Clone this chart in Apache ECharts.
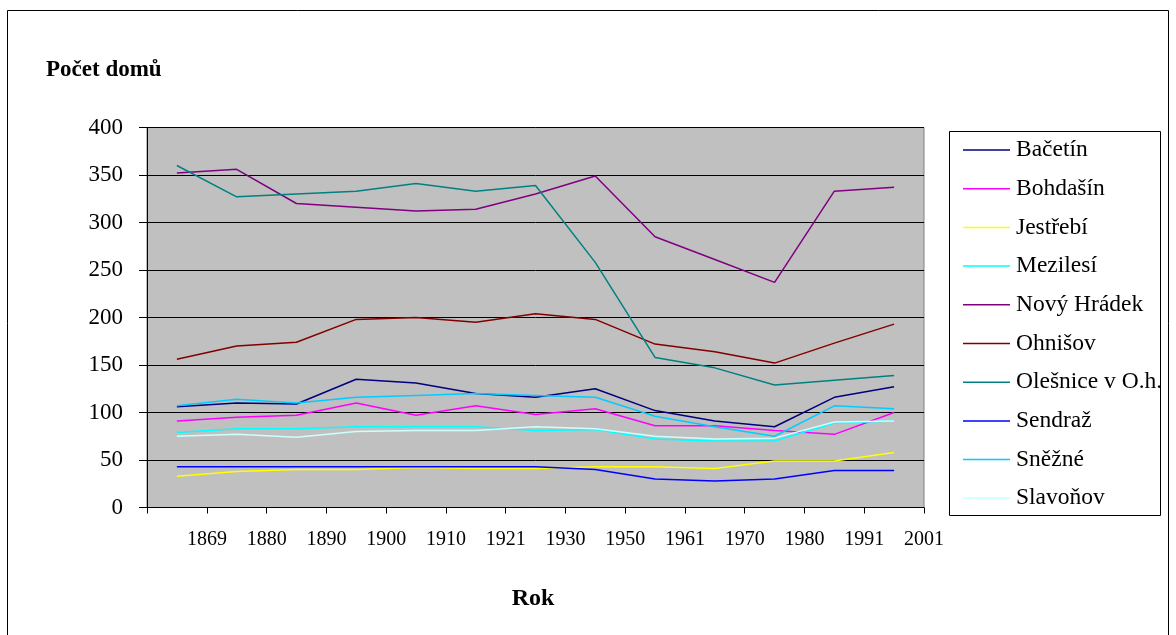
<!DOCTYPE html>
<html>
<head>
<meta charset="utf-8">
<script src="https://cdn.jsdelivr.net/npm/echarts@6/dist/echarts.min.js"></script>
<style>
  html, body { margin: 0; padding: 0; background: #fff; }
  #chart { width: 1176px; height: 635px; }
</style>
</head>
<body>
<div id="chart"></div>
<script>
// Census years (x categories)
const years = ['1869', '1880', '1890', '1900', '1910', '1921', '1930', '1950', '1961', '1970', '1980', '1991', '2001'];

// Number of houses per village
const bacetin    = [106, 110, 109, 135, 131, 120, 116, 125, 102, 91, 85, 116, 127];
const bohdasin   = [91, 95, 97, 110, 97, 107, 98, 104, 86, 86, 81, 77, 100];
const jestrebi   = [33, 38, 40, 40, 42, 41, 41, 43, 43, 41, 49, 49, 58];
const mezilesi   = [79, 83, 83, 85, 85, 85, 81, 82, 72, 70, 70, 89, 91];
const novyHradek = [352, 356, 320, 316, 312, 314, 330, 349, 285, 261, 237, 333, 337];
const ohnisov    = [156, 170, 174, 198, 200, 195, 204, 198, 172, 164, 152, 173, 193];
const olesnice   = [360, 327, 330, 333, 341, 333, 339, 258, 158, 147, 129, 134, 139];
const sendraz    = [43, 43, 43, 43, 43, 43, 43, 40, 30, 28, 30, 39, 39];
const snezne     = [107, 114, 110, 116, 118, 120, 118, 116, 96, 85, 75, 107, 104];
const slavonov   = [75, 77, 74, 80, 81, 81, 85, 83, 75, 72, 73, 90, 91];

const yTicks = { min: 0, max: 400, interval: 50 };

const seriesDefs = [
  { name: 'Bačetín', data: bacetin, color: '#000080' },
  { name: 'Bohdašín', data: bohdasin, color: '#FF00FF' },
  { name: 'Jestřebí', data: jestrebi, color: '#FFFF00' },
  { name: 'Mezilesí', data: mezilesi, color: '#00FFFF' },
  { name: 'Nový Hrádek', data: novyHradek, color: '#800080' },
  { name: 'Ohnišov', data: ohnisov, color: '#800000' },
  { name: 'Olešnice v O.h.', data: olesnice, color: '#008080' },
  { name: 'Sendraž', data: sendraz, color: '#0000FF' },
  { name: 'Sněžné', data: snezne, color: '#00CCFF' },
  { name: 'Slavoňov', data: slavonov, color: '#CCFFFF' }
];

const FONT = '"Liberation Serif", "DejaVu Serif", serif';

const chart = echarts.init(document.getElementById('chart'), null, { renderer: 'canvas' });

chart.setOption({
  animation: false,
  backgroundColor: '#ffffff',
  textStyle: { fontFamily: FONT },
  grid: {
    left: 147, right: 252, top: 127.5, bottom: 127.5,
    show: true, backgroundColor: '#C0C0C0', borderColor: '#808080', borderWidth: 1
  },
  xAxis: {
    type: 'category',
    data: years,
    boundaryGap: true,
    axisLine: { show: true, lineStyle: { color: '#000', width: 1 } },
    axisTick: { show: true, length: 6, lineStyle: { color: '#000' } },
    axisLabel: {
      color: '#000', fontFamily: FONT, fontSize: 20, margin: 22,
      padding: [0, 0, 0, 60], interval: 0
    },
    splitLine: { show: false }
  },
  yAxis: {
    type: 'value',
    min: yTicks.min, max: yTicks.max, interval: yTicks.interval,
    axisLine: { show: true, lineStyle: { color: '#000', width: 1 } },
    axisTick: { show: true, length: 8, lineStyle: { color: '#000' } },
    axisLabel: { color: '#000', fontFamily: FONT, fontSize: 23, margin: 24 },
    splitLine: { show: true, lineStyle: { color: '#000', width: 1 } }
  },
  legend: {
    orient: 'vertical',
    left: 963, top: 138, padding: 0,
    icon: 'rect',
    itemWidth: 47, itemHeight: 1.5, itemGap: 14.7,
    textStyle: { color: '#000', fontFamily: FONT, fontSize: 23.5, lineHeight: 23.5, padding: [0, 0, 0, 1] },
    data: seriesDefs.map(s => s.name)
  },
  graphic: [
    // outer chart frame
    { type: 'rect', shape: { x: 7.5, y: 10.5, width: 1161, height: 700 },
      style: { fill: 'none', stroke: '#000', lineWidth: 1 }, z: -1 },
    // legend frame
    { type: 'rect', shape: { x: 949.5, y: 131.5, width: 211, height: 384 },
      style: { fill: '#fff', stroke: '#000', lineWidth: 1 }, z: -1 },
    { type: 'text', left: 46, top: 59,
      style: { text: 'Počet domů', fill: '#000', font: 'bold 23px ' + FONT } },
    { type: 'text', x: 533, y: 599,
      style: { text: 'Rok', fill: '#000', font: 'bold 24px ' + FONT, textAlign: 'center', textVerticalAlign: 'middle' } }
  ],
  series: seriesDefs.map(s => ({
    name: s.name,
    type: 'line',
    data: s.data,
    symbol: 'none',
    color: s.color,
    itemStyle: { color: s.color },
    lineStyle: { color: s.color, width: 1.5 }
  }))
});
</script>
</body>
</html>
